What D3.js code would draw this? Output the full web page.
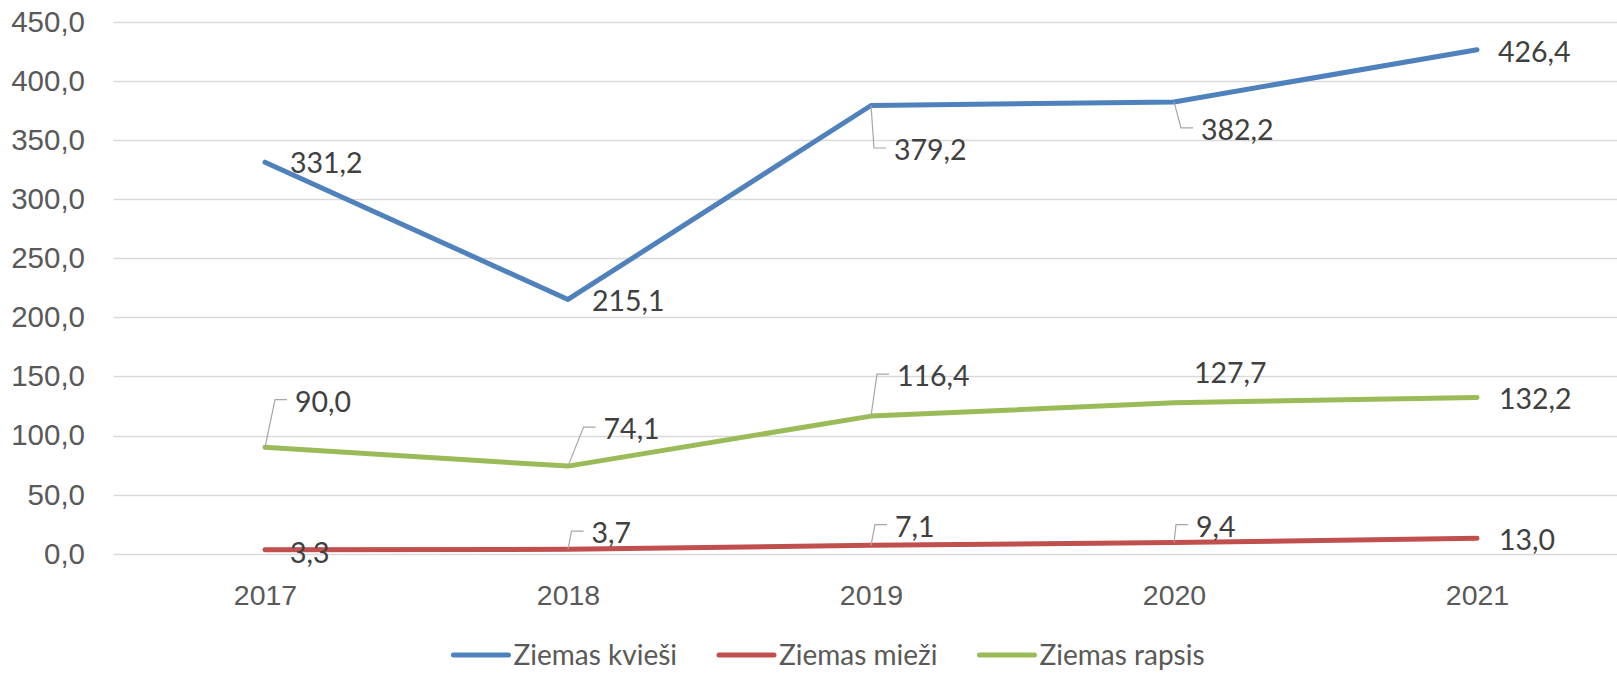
<!DOCTYPE html>
<html lang="lv">
<head>
<meta charset="utf-8">
<title>Ziemas kultūras</title>
<script src="https://cdn.jsdelivr.net/npm/d3@7"></script>
<style>
  body { margin: 0; background: #fff; }
  svg { display: block; font-family: Lato, "Noto Sans", sans-serif; }
  .tick text { font-size: 28.5px; fill: #595959; }
  .yax .tick text { font-size: 29.5px; }
  .grid line { stroke: #d9d9d9; stroke-width: 1.3; }
  .lbl { font-size: 28.5px; fill: #404040; }
  .leader { stroke: #a6a6a6; stroke-width: 1.2; fill: none; }
  .legend text { font-size: 28px; fill: #595959; }
</style>
</head>
<body>
<script>
// data
var years = ["2017", "2018", "2019", "2020", "2021"];
var seriesNames = ["Ziemas kvieši", "Ziemas mieži", "Ziemas rapsis"];
var kviesi = [331.2, 215.1, 379.2, 382.2, 426.4];
var miezi = [3.3, 3.7, 7.1, 9.4, 13.0];
var rapsis = [90.0, 74.1, 116.4, 127.7, 132.2];
var yTicks = [0, 50, 100, 150, 200, 250, 300, 350, 400, 450];
var colors = ["#4f81bd", "#c0504d", "#9bbb59"];

// where each data label sits relative to its point: [dx of text start, dy of text middle, leader?]
var labelPos = [
  [[25, 1, 0], [24, 2, 0], [23, 44.5, 1], [27, 28, 1], [21, 2, 0]],
  [[25, 3, 0], [23.5, -16.3, 1], [24, -18.6, 1], [22, -16, 1], [22, 2, 0]],
  [[30, -45.6, 1], [35.6, -37, 1], [26, -40, 1], [20, -30, 0], [22, 1.6, 0]]
];

var W = 1617, H = 673;
var allSeries = [kviesi, miezi, rapsis];

var lv = d3.formatLocale({decimal: ",", thousands: " ", grouping: [3], currency: ["", " €"]});
var fmt = lv.format(".1f");

var svg = d3.select("body").append("svg")
  .attr("width", W)
  .attr("height", H);

var x = d3.scalePoint().domain(years).range([113.5, 1628.5]).padding(0.5);
var y = d3.scaleLinear().domain([0, 450]).range([553.7, 21.8]);

// gridlines
svg.append("g").attr("class", "grid")
  .selectAll("line")
  .data(yTicks)
  .enter()
  .append("line")
  .attr("x1", 113.5)
  .attr("x2", W)
  .attr("y1", function(d) { return Math.round(y(d)) + 0.5; })
  .attr("y2", function(d) { return Math.round(y(d)) + 0.5; });

// y axis
var yAxis = svg.append("g")
  .attr("class", "yax")
  .attr("transform", "translate(113.5,0)")
  .call(d3.axisLeft(y).tickValues(yTicks).tickSize(0).tickPadding(28.5).tickFormat(fmt));
yAxis.select(".domain").remove();
yAxis.selectAll("text").attr("font-family", null).attr("font-size", null);

// x axis
var xAxis = svg.append("g")
  .attr("transform", "translate(0," + y(0) + ")")
  .call(d3.axisBottom(x).tickSize(0));
xAxis.select(".domain").remove();
xAxis.selectAll("text")
  .attr("font-family", null).attr("font-size", null)
  .attr("y", 41).attr("dy", "0.35em");

// lines
var line = d3.line()
  .x(function(d, i) { return x(years[i]); })
  .y(function(d) { return y(d); });

allSeries.forEach(function(vals, s) {
  svg.append("path")
    .datum(vals)
    .attr("d", line)
    .attr("fill", "none")
    .attr("stroke", colors[s])
    .attr("stroke-width", 5)
    .attr("stroke-linecap", "round")
    .attr("stroke-linejoin", "round");
});

// data labels
allSeries.forEach(function(vals, s) {
  var g = svg.append("g");
  vals.forEach(function(v, i) {
    var px = x(years[i]), py = y(v);
    var p = labelPos[s][i];
    var tx = px + p[0], cy = py + p[1];
    if (p[2]) {
      g.append("path")
        .attr("class", "leader")
        .attr("d", "M" + px + "," + py + "L" + (tx - 20) + "," + (cy - 2) + "L" + (tx - 8) + "," + (cy - 2));
    }
    g.append("text")
      .attr("class", "lbl")
      .attr("x", tx)
      .attr("y", cy)
      .attr("dy", "0.35em")
      .text(fmt(v));
  });
});

// legend
var legend = svg.append("g").attr("class", "legend");
var lx = 0;
seriesNames.forEach(function(name, s) {
  var it = legend.append("g");
  it.append("line")
    .attr("x1", 0).attr("x2", 55)
    .attr("y1", 0).attr("y2", 0)
    .attr("stroke", colors[s])
    .attr("stroke-width", 5)
    .attr("stroke-linecap", "round");
  var t = it.append("text")
    .attr("x", 60).attr("y", 0).attr("dy", "0.35em")
    .text(name);
  var w = 60 + t.node().getComputedTextLength();
  it.attr("transform", "translate(" + lx + ",0)");
  lx += w + 42;
});
var total = lx - 42;
legend.attr("transform", "translate(" + (829 - total / 2) + ",655)");
</script>
</body>
</html>
